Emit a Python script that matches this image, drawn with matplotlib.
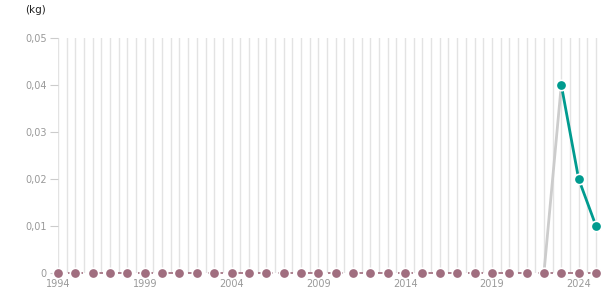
import matplotlib
matplotlib.use("Agg")
import matplotlib.pyplot as plt
from matplotlib.ticker import FuncFormatter

years = list(range(1994, 2026))
zero_series = [0.0] * len(years)
grey_years = [2022, 2023]
grey_values = [0.0, 0.04]
teal_years = [2023, 2024, 2025]
teal_values = [0.04, 0.02, 0.01]
x_tick_years = [1994, 1999, 2004, 2009, 2014, 2019, 2024]
y_ticks = [0, 0.01, 0.02, 0.03, 0.04, 0.05]

plt.rcParams['font.family'] = ['DejaVu Sans']
fig = plt.figure(figsize=(6.15, 3.05), dpi=100)
ax = fig.add_axes([58/615, 32/305, (600-58)/615, (273-38)/305])

ax.set_xlim(1994, 2025.23)
ax.set_ylim(0, 0.05)

# vertical gridlines every half year
for g in [1994 + 0.5*i for i in range(63)]:
    ax.axvline(g, color='#e3e3e3', lw=1, zorder=0)

ax.plot(years, zero_series, color='#9e6b7c', lw=1.2, ls=(0, (3, 3)), zorder=2, clip_on=False)
ax.plot(grey_years, grey_values, color='#cccccc', lw=2, zorder=2, clip_on=False)
ax.plot(teal_years, teal_values, color='#009b8f', lw=2, zorder=3, clip_on=False)
ax.plot(years, zero_series, ls='none', marker='o', ms=7.5, mfc='#a06e7f', mec='white', mew=1.2, zorder=4, clip_on=False)
ax.plot(teal_years, teal_values, ls='none', marker='o', ms=7.5, mfc='#009b8f', mec='white', mew=1.2, zorder=5, clip_on=False)

for s in ax.spines.values():
    s.set_visible(False)

ax.set_xticks(x_tick_years)
ax.set_xticklabels([str(y) for y in x_tick_years])
ax.set_yticks(y_ticks)
ax.yaxis.set_major_formatter(FuncFormatter(lambda v, p: '0' if v == 0 else f'{v:.2f}'.replace('.', ',')))
ax.tick_params(axis='x', length=0, pad=4, labelsize=7, labelcolor='#999999')
ax.tick_params(axis='y', length=6, width=0.8, color='#cccccc', pad=2, labelsize=7, labelcolor='#999999')

fig.text(25/615, 1 - 10/305, '(kg)', fontsize=7.5, color='#222222', va='center', ha='left')

fig.savefig('out.png', dpi=100)
